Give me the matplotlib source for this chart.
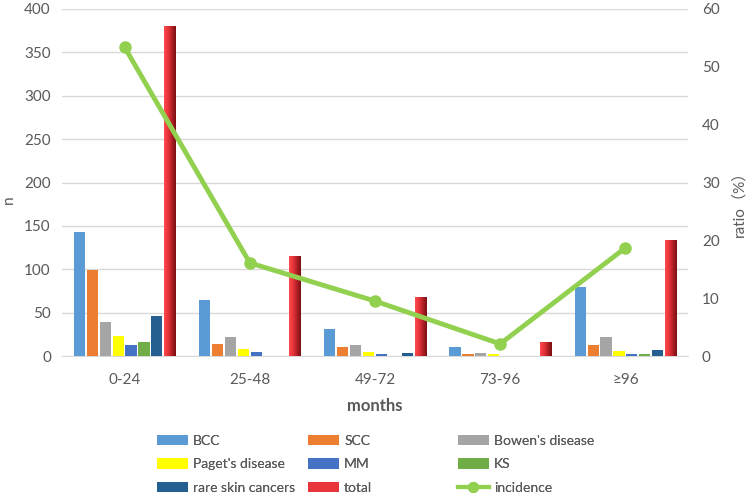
import matplotlib
matplotlib.use("Agg")
import matplotlib.pyplot as plt
import numpy as np
from matplotlib.patches import Patch
from matplotlib.lines import Line2D
from matplotlib.colors import LinearSegmentedColormap

plt.rcParams['font.family'] = ['Lato', 'DejaVu Sans']

categories = ["0-24", "25-48", "49-72", "73-96", "≥96"]
series_names = ["BCC", "SCC", "Bowen's disease", "Paget's disease", "MM", "KS", "rare skin cancers", "total"]
BCC = [143, 65, 31, 10, 79]
SCC = [99, 14, 10, 2, 13]
Bowen = [39, 22, 13, 4, 22]
Paget = [23, 8, 5, 2, 6]
MM = [13, 5, 2, 0, 2]
KS = [16, 0, 0, 0, 2]
rare = [46, 0, 3, 0, 7]
total = [380, 115, 68, 16, 134]
incidence = [53.4, 16.1, 9.5, 2.1, 18.7]

colors = ["#5B9BD5", "#ED7D31", "#A5A5A5", "#FFFF00", "#4472C4", "#70AD47", "#255E91", "#E8353B"]
data = [BCC, SCC, Bowen, Paget, MM, KS, rare, total]

fig = plt.figure(figsize=(7.5, 4.97), dpi=100)
ax = fig.add_axes([62/750, 1-356/497, (688-62)/750, (356-9)/497])
ax2 = ax.twinx()

x = np.arange(len(categories))
n = len(data)
pitch = 0.103
width = 0.09
grey = "#595959"

gradient = LinearSegmentedColormap.from_list("g", ["#FF4A4F", "#E8353B", "#B02025", "#7A1014"])
for i, (vals, c) in enumerate(zip(data, colors)):
    pos = x + (i - (n - 1) / 2) * pitch
    bars = ax.bar(pos, vals, width=width, color=c, zorder=3)
    if i == n - 1:
        for b in bars:
            bx, by = b.get_x(), b.get_y()
            bw, bh = b.get_width(), b.get_height()
            grad = np.linspace(0, 1, 64).reshape(1, -1)
            im = ax.imshow(grad, cmap=gradient, aspect='auto',
                           extent=(bx, bx + bw, by, by + bh), zorder=3.5)
            im.set_clip_path(b)

ax.set_xlim(-0.5, len(categories) - 0.5)
ax.set_ylim(0, 400)
ax.set_yticks(np.arange(0, 401, 50))
ax.set_xticks(x)
ax.set_xticklabels(categories)
ax.grid(axis='y', color='#D9D9D9', linewidth=1, zorder=0)
ax.set_axisbelow(True)
for s in ['top', 'left', 'right']:
    ax.spines[s].set_visible(False)
ax.spines['bottom'].set_color('#D9D9D9')
ax.tick_params(axis='both', length=0, colors=grey, labelsize=11, pad=8)
ax.tick_params(axis='x', pad=12)
ax.set_ylabel("n", color=grey, fontsize=11)
ax.yaxis.set_label_coords(-0.074, 0.45)
ax.set_xlabel("months", color=grey, fontsize=12, fontweight='bold', labelpad=8)

ax2.plot(x, incidence, color="#92D050", linewidth=3.5, marker='o', markersize=8, zorder=5)
ax2.set_ylim(0, 60)
ax2.set_yticks(np.arange(0, 61, 10))
for s in ax2.spines.values():
    s.set_visible(False)
ax2.tick_params(axis='y', length=0, colors=grey, labelsize=11, pad=10)
ax2.set_ylabel("ratio（%）", color=grey, fontsize=11,
               family=['Lato', 'Noto Sans CJK SC', 'DejaVu Sans'])
ax2.yaxis.set_label_coords(1.07, 0.45)
ax.set_zorder(1)
ax2.set_zorder(2)
ax2.patch.set_visible(False)

handles = [Patch(facecolor=c, edgecolor='none') for c in colors]
handles.append(Line2D([0], [0], color="#92D050", linewidth=3, marker='o', markersize=7))
labels = series_names + ["incidence"]
columns = [[0, 3, 6], [1, 4, 7], [2, 5, 8]]
col_x = [157, 308, 458]
for idx, cx in zip(columns, col_x):
    leg = fig.legend([handles[i] for i in idx], [labels[i] for i in idx],
                     loc='upper left', bbox_to_anchor=(cx/750, 1-435/497), frameon=False,
                     fontsize=10, handlelength=2.2, handleheight=0.75, borderpad=0,
                     borderaxespad=0, labelspacing=0.82, handletextpad=0.4, labelcolor=grey)
    fig.add_artist(leg)

fig.savefig("out.png", dpi=100)
